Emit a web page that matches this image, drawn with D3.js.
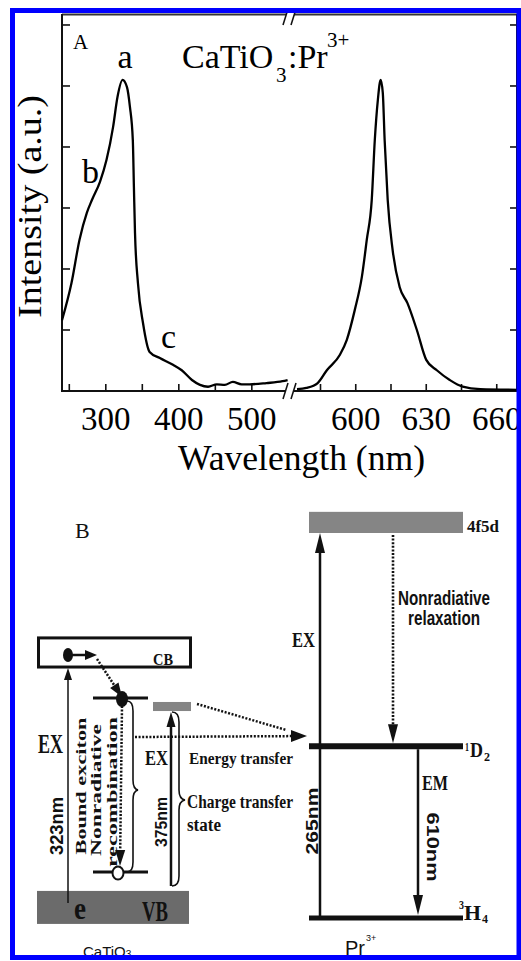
<!DOCTYPE html>
<html><head><meta charset="utf-8">
<script src="https://cdn.jsdelivr.net/npm/d3@7"></script>
<style>body{margin:0;background:#fff}svg{display:block}</style>
</head><body>
<script>
// ---------- Panel A data ----------
const excWavelength = [240,253,264,274,281,292,301,310,316,323,329,333,337,338.5,340,344,351,360,374,392,404,418,429,440,452,463,474,486,497,520,542,549];
const excIntensity  = [1.16,1.77,2.48,2.92,3.13,3.43,3.79,4.33,4.82,5.10,4.98,4.66,4.11,3.34,2.59,1.77,1.11,0.64,0.54,0.43,0.34,0.18,0.10,0.07,0.11,0.10,0.15,0.11,0.11,0.13,0.16,0.18];
const emWavelength  = [575,579,583.8,587.7,593.2,596.2,599.6,602.6,604.7,606.8,608.1,609.4,610.6,611.5,612.3,613.6,615.7,618.7,622,626,630,634.5,640,645.5,653,669];
const emIntensity   = [0.03,0.05,0.13,0.34,0.59,0.84,1.33,1.87,2.48,3.13,4.11,4.77,5.10,4.89,4.11,3.13,2.31,1.70,1.44,1.00,0.51,0.34,0.18,0.07,0.03,0.02];
const leftTicks  = [250,300,350,400,450,500];
const leftLabels = [300,400,500];
const rightTicks = [585,600,615,630,645,660];
const rightLabels= [600,630,660];
const yTicks = [1,2,3,4,5,6];
const peakLabels = [{t:"a", w:323}, {t:"b", w:281}, {t:"c", w:392}];

// ---------- Panel B data (energy-level diagram) ----------
const prLevels = [{name:"3H4", e:0}, {name:"1D2", e:2.03}];
const prBand   = {name:"4f5d", e0:4.55, e1:4.80};
const hostBands = [{name:"VB", e0:-0.07, e1:0.32}, {name:"CB", e0:2.966, e1:3.31}];
const excitonLevel = 2.60, holeLevel = 0.544, ctState = [2.446, 2.553], etLevel = 2.139;

const W = 521, H = 961;
const svg = d3.select("body").append("svg").attr("width", W).attr("height", H);
svg.append("rect").attr("width", W).attr("height", H).attr("fill", "#fff");

const serif = "'Liberation Serif','Times New Roman',serif";
const sans = "'Liberation Sans',Arial,sans-serif";

// scales
const xL = d3.scaleLinear().domain([240, 549]).range([62, 287.6]);
const xR = d3.scaleLinear().domain([575, 669]).range([297, 517.9]);
const y = d3.scaleLinear().domain([0, 6.18]).range([391, 14]);

const gA = svg.append("g");
// frame lines
gA.append("line").attr("x1", 62).attr("x2", 518).attr("y1", 391).attr("y2", 391).attr("stroke", "#111").attr("stroke-width", 2);
gA.append("line").attr("x1", 62).attr("x2", 518).attr("y1", 14.5).attr("y2", 14.5).attr("stroke", "#333").attr("stroke-width", 2);
gA.append("line").attr("x1", 62).attr("x2", 62).attr("y1", 14).attr("y2", 392).attr("stroke", "#111").attr("stroke-width", 2);
gA.append("line").attr("x1", 517).attr("x2", 517).attr("y1", 14).attr("y2", 392).attr("stroke", "#111").attr("stroke-width", 2);

// ticks
gA.selectAll(".tl").data(leftTicks).join("line")
  .attr("x1", d => xL(d)).attr("x2", d => xL(d)).attr("y1", 391).attr("y2", 384).attr("stroke", "#111").attr("stroke-width", 1.6);
gA.selectAll(".tr").data(rightTicks).join("line")
  .attr("x1", d => xR(d)).attr("x2", d => xR(d)).attr("y1", 391).attr("y2", 384).attr("stroke", "#111").attr("stroke-width", 1.6);
gA.selectAll(".yl").data(yTicks).join("line")
  .attr("x1", 62).attr("x2", 70).attr("y1", d => y(d)).attr("y2", d => y(d)).attr("stroke", "#111").attr("stroke-width", 1.6);
gA.selectAll(".yr").data(yTicks).join("line")
  .attr("x1", 510).attr("x2", 517).attr("y1", d => y(d)).attr("y2", d => y(d)).attr("stroke", "#111").attr("stroke-width", 1.6);

// tick labels
gA.selectAll(".ll").data(leftLabels).join("text")
  .attr("x", d => xL(d)).attr("y", 430).attr("text-anchor", "middle")
  .attr("font-family", serif).attr("font-size", 33).text(d => d);
gA.selectAll(".rl").data(rightLabels).join("text")
  .attr("x", d => xR(d)).attr("y", 430).attr("text-anchor", "middle")
  .attr("font-family", serif).attr("font-size", 33).text(d => d);

// curves
const line = d3.line().curve(d3.curveMonotoneX);
const excPts = excWavelength.map((w, i) => [xL(w), y(excIntensity[i])]);
const emPts = emWavelength.map((w, i) => [xR(w), y(emIntensity[i])]);
gA.append("path").attr("d", line(excPts)).attr("fill", "none").attr("stroke", "#000").attr("stroke-width", 2.3);
gA.append("path").attr("d", line(emPts)).attr("fill", "none").attr("stroke", "#000").attr("stroke-width", 2.3);

// axis breaks
function brk(cx, cy) {
  gA.append("polygon").attr("points", `${cx-7},${cy+8} ${cx-2},${cy-8} ${cx+6},${cy-8} ${cx+1},${cy+8}`).attr("fill", "#fff");
  gA.append("line").attr("x1", cx-7).attr("y1", cy+8).attr("x2", cx-2).attr("y2", cy-8).attr("stroke", "#111").attr("stroke-width", 1.6);
  gA.append("line").attr("x1", cx+1).attr("y1", cy+8).attr("x2", cx+6).attr("y2", cy-8).attr("stroke", "#111").attr("stroke-width", 1.6);
}
brk(290, 391);
brk(290, 17);

// labels
gA.append("text").attr("x", 73).attr("y", 49).attr("font-family", serif).attr("font-size", 21).text("A");
peakLabels.forEach(p => {
  const pos = {a:[125, 68, "middle"], b:[82, 183, "start"], c:[161, 348, "start"]}[p.t];
  gA.append("text").attr("x", pos[0]).attr("y", pos[1]).attr("text-anchor", pos[2])
    .attr("font-family", serif).attr("font-size", 34).text(p.t);
});
gA.append("text").attr("x", 182).attr("y", 68).attr("font-family", serif).attr("font-size", 34).text("CaTiO");
gA.append("text").attr("x", 276).attr("y", 82).attr("font-family", serif).attr("font-size", 21).text("3");
gA.append("text").attr("x", 288).attr("y", 68).attr("font-family", serif).attr("font-size", 34).text(":Pr");
gA.append("text").attr("x", 327).attr("y", 47).attr("font-family", serif).attr("font-size", 21).text("3+");

gA.append("text").attr("x", 178).attr("y", 470).attr("font-family", serif).attr("font-size", 35)
  .attr("textLength", 247).attr("lengthAdjust", "spacingAndGlyphs").text("Wavelength (nm)");
gA.append("text").attr("transform", "translate(41,206.5) rotate(-90)").attr("text-anchor", "middle")
  .attr("font-family", serif).attr("font-size", 34)
  .attr("textLength", 223).attr("lengthAdjust", "spacingAndGlyphs").text("Intensity (a.u.)");

// ---------- Panel B ----------
const eY = d3.scaleLinear().domain([0, 4.68]).range([918, 522]);
const gB = svg.append("g");

function txt(x, yy, s, o = {}) {
  const t = gB.append("text").attr("x", x).attr("y", yy)
    .attr("font-family", o.sans ? sans : serif).attr("font-weight", o.normal ? "normal" : "bold")
    .attr("font-size", o.size || 16).attr("text-anchor", o.anchor || "start").attr("fill", "#111");
  if (o.len) t.attr("textLength", o.len).attr("lengthAdjust", "spacingAndGlyphs");
  if (o.rot) t.attr("transform", `rotate(${o.rot},${x},${yy})`);
  t.text(s);
  return t;
}
function arrowHead(x2, y2, dx, dy, L, w) {
  const n = Math.hypot(dx, dy), ux = dx / n, uy = dy / n;
  const bx = x2 - ux * L, by = y2 - uy * L;
  gB.append("polygon").attr("points",
    `${x2},${y2} ${bx - uy * w},${by + ux * w} ${bx + uy * w},${by - ux * w}`).attr("fill", "#111");
}
function arrow(x1, y1, x2, y2, o = {}) {
  const L = o.L || 18, w = o.w || 5;
  const n = Math.hypot(x2 - x1, y2 - y1);
  const ex = x2 - (x2 - x1) / n * (L * 0.8), ey = y2 - (y2 - y1) / n * (L * 0.8);
  const l = gB.append("line").attr("x1", x1).attr("y1", y1).attr("x2", ex).attr("y2", ey)
    .attr("stroke", "#111").attr("stroke-width", o.sw || 2.5);
  if (o.dot) l.attr("stroke-dasharray", "2,1.6");
  if (!o.noHead) arrowHead(x2, y2, x2 - x1, y2 - y1, L, w);
}

txt(75, 538, "B", {normal: true, size: 22});

// Pr3+ side
gB.append("rect").attr("x", 309).attr("y", eY(prBand.e1)).attr("width", 154)
  .attr("height", eY(prBand.e0) - eY(prBand.e1)).attr("fill", "#858585");
txt(467, 532, "4f5d", {size: 17, len: 32});
gB.selectAll(".pl").data(prLevels).join("line")
  .attr("x1", 309).attr("x2", 463).attr("y1", d => eY(d.e)).attr("y2", d => eY(d.e))
  .attr("stroke", "#111").attr("stroke-width", d => d.e > 0 ? 6 : 5);
// 1D2 label
txt(465, 751, "1", {size: 12, len: 4});
txt(470, 757, "D", {size: 21, len: 13});
txt(484, 761, "2", {size: 12, len: 6});
// 3H4 label
txt(459, 909, "3", {size: 12, len: 5});
txt(464, 920, "H", {size: 22, len: 17});
txt(482, 923, "4", {size: 12, len: 6});

arrow(320, eY(0), 320, eY(prBand.e0), {sw: 2.5, L: 20, w: 5});
txt(292, 647, "EX", {size: 21, len: 23});
arrow(393, eY(prBand.e0) + 2, 393, eY(prLevels[1].e) - 3, {sw: 2.6, dot: true, L: 19, w: 5});
txt(444, 605, "Nonradiative", {sans: true, size: 20, len: 92, anchor: "middle"});
txt(444, 625, "relaxation", {sans: true, size: 20, len: 72, anchor: "middle"});
arrow(418, eY(prLevels[1].e) + 3, 418, eY(0) - 3, {sw: 2.5, L: 20, w: 5});
txt(422, 790, "EM", {size: 20, len: 26});
txt(318, 821, "265nm", {sans: true, size: 16, len: 67, rot: -90, anchor: "middle"});
txt(427, 847, "610nm", {sans: true, size: 16, len: 69, rot: 90, anchor: "middle"});
const prT = gB.append("text").attr("x", 345).attr("y", 955).attr("font-family", sans).attr("font-size", 20).attr("fill", "#111");
prT.append("tspan").text("Pr");
prT.append("tspan").attr("font-size", 9).attr("dy", -14).attr("dx", 1).text("3+");

// CaTiO3 side
const vb = hostBands[0], cb = hostBands[1];
gB.append("rect").attr("x", 37).attr("y", eY(vb.e1)).attr("width", 152)
  .attr("height", eY(vb.e0) - eY(vb.e1)).attr("fill", "#6b6b6b");
gB.append("rect").attr("x", 38.5).attr("y", eY(cb.e1)).attr("width", 152)
  .attr("height", eY(cb.e0) - eY(cb.e1)).attr("fill", "none").attr("stroke", "#111").attr("stroke-width", 3);
txt(153, 665, "CB", {size: 16, len: 20});
txt(142, 921, "VB", {size: 30, len: 26});
txt(74, 919, "e", {size: 32, len: 12});
const caT = gB.append("text").attr("x", 83).attr("y", 957).attr("font-family", sans).attr("font-size", 15).attr("fill", "#111");
caT.append("tspan").text("CaTiO");
caT.append("tspan").attr("font-size", 10).attr("dy", 1).text("3");

// levels
[excitonLevel, holeLevel].forEach(e => {
  gB.append("line").attr("x1", 93).attr("x2", 148).attr("y1", eY(e)).attr("y2", eY(e))
    .attr("stroke", "#111").attr("stroke-width", 3);
});
gB.append("rect").attr("x", 153).attr("y", eY(ctState[1])).attr("width", 38)
  .attr("height", eY(ctState[0]) - eY(ctState[1])).attr("fill", "#858585");

// EX 323nm arrow
arrow(68, 903, 68, eY(cb.e0) + 1, {sw: 1.5, L: 12, w: 4});
txt(38, 753, "EX", {size: 28, len: 25});
txt(63, 826, "323nm", {sans: true, size: 18, len: 58, rot: -90, anchor: "middle"});
// electron in CB and horizontal arrow
gB.append("ellipse").attr("cx", 68).attr("cy", 655).attr("rx", 5).attr("ry", 7).attr("fill", "#111");
arrow(68, 655, 97, 655, {sw: 2.5, L: 12, w: 5});
// dotted diag to exciton
arrow(97, 659, 122, eY(excitonLevel) - 1, {sw: 2.5, dot: true, L: 14, w: 5});
gB.append("ellipse").attr("cx", 122).attr("cy", eY(excitonLevel) + 1).attr("rx", 6).attr("ry", 8).attr("fill", "#111");
// dotted down to hole
arrow(122, eY(excitonLevel) + 8, 120, eY(holeLevel) - 6, {sw: 2.5, dot: true, L: 16, w: 5});
gB.append("ellipse").attr("cx", 118).attr("cy", eY(holeLevel) + 1).attr("rx", 5.5).attr("ry", 6.5)
  .attr("fill", "#fff").attr("stroke", "#111").attr("stroke-width", 2);
// bound exciton text
txt(86, 786, "Bound exciton", {size: 15, len: 137, rot: -90, anchor: "middle"});
txt(101, 790, "Nonradiative", {size: 15, len: 132, rot: -90, anchor: "middle"});
txt(117, 792, "recombination", {size: 15, len: 150, rot: -90, anchor: "middle"});
// brace 1
gB.append("path").attr("d", "M127,701 Q133,701 133,711 L133,780 Q133,789 138,790 Q133,791 133,800 L133,862 Q133,872 127,872")
  .attr("fill", "none").attr("stroke", "#111").attr("stroke-width", 1.6);

// EX 375nm arrow
arrow(171, 886, 171, eY(ctState[0]) + 1, {sw: 2.5, L: 15, w: 4.5});
txt(145, 765, "EX", {size: 21, len: 23});
txt(167, 822, "375nm", {sans: true, size: 16, len: 50, rot: -90, anchor: "middle"});
// brace 2
gB.append("path").attr("d", "M172,712 Q179,712 179,722 L179,790 Q179,799 185,800 Q179,801 179,810 L179,876 Q179,886 172,886")
  .attr("fill", "none").attr("stroke", "#111").attr("stroke-width", 1.6);
txt(187, 808, "Charge transfer", {size: 18, len: 106});
txt(187, 831, "state", {size: 18, len: 34});

// energy transfer dotted arrows
arrow(135, eY(etLevel), 307, eY(etLevel) - 1, {sw: 2.5, dot: true, L: 16, w: 6});
arrow(197, 704, 300, 734, {sw: 2.5, dot: true, noHead: true});
txt(189, 764, "Energy transfer", {size: 17, len: 104});

// blue frame
svg.append("rect").attr("x", 12.5).attr("y", 10.5).attr("width", 506.5).attr("height", 947)
  .attr("fill", "none").attr("stroke", "#0000ff").attr("stroke-width", 5);
</script>
</body></html>
